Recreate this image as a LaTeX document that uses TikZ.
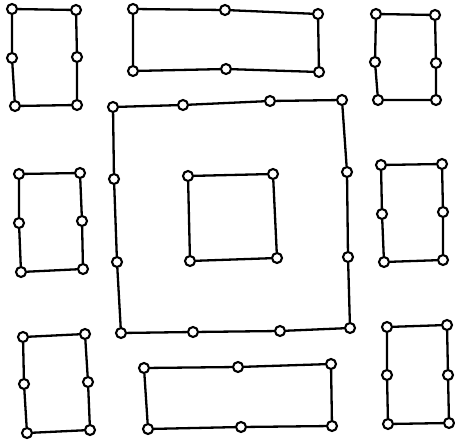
\documentclass[tikz,border=0pt]{standalone}
\begin{document}
\begin{tikzpicture}[x=1pt,y=-1pt,
  pt/.style={circle,draw,fill=white,inner sep=0pt,minimum size=10pt,line width=2.1pt},
  ln/.style={line width=2.3pt}]
\useasboundingbox (0,0) rectangle (455,444);
% top-left rect
\node[pt] (a1) at (12,9) {}; \node[pt] (a2) at (76,10) {};
\node[pt] (a3) at (12,58) {}; \node[pt] (a4) at (77,57) {};
\node[pt] (a5) at (15,106) {}; \node[pt] (a6) at (77,105) {};
\draw[ln] (a1)--(a2) (a1)--(a3) (a3)--(a5) (a5)--(a6) (a2)--(a4) (a4)--(a6);
% top-middle rect
\node[pt] (b1) at (133,9) {}; \node[pt] (b2) at (225,10) {}; \node[pt] (b3) at (318,14) {};
\node[pt] (b4) at (133,71) {}; \node[pt] (b5) at (226,69) {}; \node[pt] (b6) at (319,72) {};
\draw[ln] (b1)--(b2) (b2)--(b3) (b3)--(b6) (b6)--(b5) (b5)--(b4) (b4)--(b1);
% top-right rect
\node[pt] (c1) at (376,14) {}; \node[pt] (c2) at (435,15) {};
\node[pt] (c3) at (375,62) {}; \node[pt] (c4) at (436,63) {};
\node[pt] (c5) at (378,100) {}; \node[pt] (c6) at (436,100) {};
\draw[ln] (c1)--(c2) (c1)--(c3) (c3)--(c5) (c5)--(c6) (c2)--(c4) (c4)--(c6);
% big square
\node[pt] (s1) at (113,107) {}; \node[pt] (s2) at (183,105) {};
\node[pt] (s3) at (270,101) {}; \node[pt] (s4) at (342,100) {};
\node[pt] (s5) at (347,172) {}; \node[pt] (s6) at (348,257) {};
\node[pt] (s7) at (350,328) {}; \node[pt] (s8) at (280,331) {};
\node[pt] (s9) at (193,332) {}; \node[pt] (s10) at (121,333) {};
\node[pt] (s11) at (117,262) {}; \node[pt] (s12) at (114,179) {};
\draw[ln] (s1)--(s2) (s2)--(s3) (s3)--(s4) (s4)--(s5) (s5)--(s6) (s6)--(s7)
  (s7)--(s8) (s8)--(s9) (s9)--(s10) (s10)--(s11) (s11)--(s12) (s12)--(s1);
% inner square
\node[pt] (i1) at (188,176) {}; \node[pt] (i2) at (273,174) {};
\node[pt] (i3) at (277,258) {}; \node[pt] (i4) at (190,261) {};
\draw[ln] (i1)--(i2) (i2)--(i3) (i3)--(i4) (i4)--(i1);
% middle-left rect
\node[pt] (d1) at (19,174) {}; \node[pt] (d2) at (80,173) {};
\node[pt] (d3) at (19,223) {}; \node[pt] (d4) at (82,221) {};
\node[pt] (d5) at (21,272) {}; \node[pt] (d6) at (83,269) {};
\draw[ln] (d1)--(d2) (d1)--(d3) (d3)--(d5) (d5)--(d6) (d2)--(d4) (d4)--(d6);
% middle-right rect
\node[pt] (e1) at (381,165) {}; \node[pt] (e2) at (442,164) {};
\node[pt] (e3) at (382,214) {}; \node[pt] (e4) at (443,212) {};
\node[pt] (e5) at (384,262) {}; \node[pt] (e6) at (443,260) {};
\draw[ln] (e1)--(e2) (e1)--(e3) (e3)--(e5) (e5)--(e6) (e2)--(e4) (e4)--(e6);
% bottom-left rect
\node[pt] (f1) at (23,337) {}; \node[pt] (f2) at (85,334) {};
\node[pt] (f3) at (24,384) {}; \node[pt] (f4) at (88,382) {};
\node[pt] (f5) at (27,433) {}; \node[pt] (f6) at (90,430) {};
\draw[ln] (f1)--(f2) (f1)--(f3) (f3)--(f5) (f5)--(f6) (f2)--(f4) (f4)--(f6);
% bottom-middle rect
\node[pt] (g1) at (144,368) {}; \node[pt] (g2) at (238,367) {}; \node[pt] (g3) at (331,364) {};
\node[pt] (g4) at (148,429) {}; \node[pt] (g5) at (241,427) {}; \node[pt] (g6) at (332,426) {};
\draw[ln] (g1)--(g2) (g2)--(g3) (g3)--(g6) (g6)--(g5) (g5)--(g4) (g4)--(g1);
% bottom-right rect
\node[pt] (h1) at (387,327) {}; \node[pt] (h2) at (447,325) {};
\node[pt] (h3) at (387,375) {}; \node[pt] (h4) at (448,375) {};
\node[pt] (h5) at (388,424) {}; \node[pt] (h6) at (449,423) {};
\draw[ln] (h1)--(h2) (h1)--(h3) (h3)--(h5) (h5)--(h6) (h2)--(h4) (h4)--(h6);
\end{tikzpicture}
\end{document}
